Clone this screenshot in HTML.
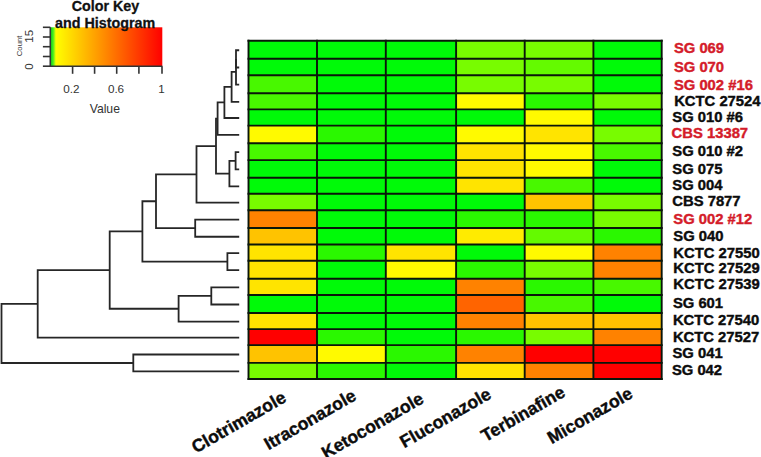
<!DOCTYPE html><html><head><meta charset="utf-8"><style>html,body{margin:0;padding:0;background:#fff;}svg{display:block}</style></head><body>
<svg width="761" height="457" viewBox="0 0 761 457" font-family="'Liberation Sans', sans-serif">
<defs><linearGradient id="ck" x1="0" x2="1" y1="0" y2="0"><stop offset="0" stop-color="#10d810"/><stop offset="0.025" stop-color="#40ee20"/><stop offset="0.05" stop-color="#ffff00"/><stop offset="1" stop-color="#ff0000"/></linearGradient></defs>
<rect x="50.3" y="27.3" width="112" height="38.9" fill="url(#ck)"/>
<g stroke="#333" stroke-width="1.6" fill="none">
<path d="M50.3 27.3V66.2H162.3"/>
<path d="M42.9 27.3H50.3"/>
<path d="M42.9 37.0H50.3"/>
<path d="M42.9 46.7H50.3"/>
<path d="M42.9 56.5H50.3"/>
<path d="M42.9 66.2H50.3"/>
<path d="M72.6 66.2V73.8"/>
<path d="M94.6 66.2V73.8"/>
<path d="M116.7 66.2V73.8"/>
<path d="M138.9 66.2V73.8"/>
<path d="M162.0 66.2V73.8"/>
</g>
<g fill="#333" font-size="11.7">
<text x="71.4" y="93.2" text-anchor="middle">0.2</text>
<text x="116.0" y="93.2" text-anchor="middle">0.6</text>
<text x="161.5" y="93.2" text-anchor="middle">1</text>
<text x="104.8" y="112.6" text-anchor="middle" font-size="12.2">Value</text>
<text transform="translate(33.2 36.3) rotate(-90)" text-anchor="middle" font-size="11.5">15</text>
<text transform="translate(33.2 66.6) rotate(-90)" text-anchor="middle" font-size="11.5">0</text>
<text transform="translate(21.6 45.9) rotate(-90)" text-anchor="middle" font-size="7.8">Count</text>
</g>
<g font-weight="bold" font-size="14.3" fill="#111" stroke="#111" stroke-width="0.3" text-anchor="middle">
<text x="105.5" y="11.3">Color Key</text>
<text x="105.1" y="28.2">and Histogram</text>
</g>
<rect x="248.5" y="40.7" width="68.50" height="18.10" fill="#00fa08"/>
<rect x="317" y="40.7" width="68.80" height="18.10" fill="#00fa08"/>
<rect x="385.8" y="40.7" width="70.30" height="18.10" fill="#00fa08"/>
<rect x="456.1" y="40.7" width="68.60" height="18.10" fill="#78fc00"/>
<rect x="524.7" y="40.7" width="68.70" height="18.10" fill="#78fc00"/>
<rect x="593.4" y="40.7" width="68.30" height="18.10" fill="#00fa08"/>
<rect x="248.5" y="58.8" width="68.50" height="16.40" fill="#00fa08"/>
<rect x="317" y="58.8" width="68.80" height="16.40" fill="#00fa08"/>
<rect x="385.8" y="58.8" width="70.30" height="16.40" fill="#00fa08"/>
<rect x="456.1" y="58.8" width="68.60" height="16.40" fill="#78fc00"/>
<rect x="524.7" y="58.8" width="68.70" height="16.40" fill="#64fa00"/>
<rect x="593.4" y="58.8" width="68.30" height="16.40" fill="#00fa08"/>
<rect x="248.5" y="75.2" width="68.50" height="18.00" fill="#48f800"/>
<rect x="317" y="75.2" width="68.80" height="18.00" fill="#00fa08"/>
<rect x="385.8" y="75.2" width="70.30" height="18.00" fill="#00fa08"/>
<rect x="456.1" y="75.2" width="68.60" height="18.00" fill="#78fc00"/>
<rect x="524.7" y="75.2" width="68.70" height="18.00" fill="#78fc00"/>
<rect x="593.4" y="75.2" width="68.30" height="18.00" fill="#00fa08"/>
<rect x="248.5" y="93.2" width="68.50" height="16.20" fill="#48f800"/>
<rect x="317" y="93.2" width="68.80" height="16.20" fill="#00fa08"/>
<rect x="385.8" y="93.2" width="70.30" height="16.20" fill="#00fa08"/>
<rect x="456.1" y="93.2" width="68.60" height="16.20" fill="#fffa00"/>
<rect x="524.7" y="93.2" width="68.70" height="16.20" fill="#2af800"/>
<rect x="593.4" y="93.2" width="68.30" height="16.20" fill="#78fc00"/>
<rect x="248.5" y="109.4" width="68.50" height="16.20" fill="#00fa08"/>
<rect x="317" y="109.4" width="68.80" height="16.20" fill="#00fa08"/>
<rect x="385.8" y="109.4" width="70.30" height="16.20" fill="#00fa08"/>
<rect x="456.1" y="109.4" width="68.60" height="16.20" fill="#00fa08"/>
<rect x="524.7" y="109.4" width="68.70" height="16.20" fill="#fffa00"/>
<rect x="593.4" y="109.4" width="68.30" height="16.20" fill="#00fa08"/>
<rect x="248.5" y="125.6" width="68.50" height="17.70" fill="#fffa00"/>
<rect x="317" y="125.6" width="68.80" height="17.70" fill="#2af800"/>
<rect x="385.8" y="125.6" width="70.30" height="17.70" fill="#00fa08"/>
<rect x="456.1" y="125.6" width="68.60" height="17.70" fill="#fffa00"/>
<rect x="524.7" y="125.6" width="68.70" height="17.70" fill="#ffe400"/>
<rect x="593.4" y="125.6" width="68.30" height="17.70" fill="#78fc00"/>
<rect x="248.5" y="143.3" width="68.50" height="16.80" fill="#48f800"/>
<rect x="317" y="143.3" width="68.80" height="16.80" fill="#00fa08"/>
<rect x="385.8" y="143.3" width="70.30" height="16.80" fill="#00fa08"/>
<rect x="456.1" y="143.3" width="68.60" height="16.80" fill="#ffe400"/>
<rect x="524.7" y="143.3" width="68.70" height="16.80" fill="#fffa00"/>
<rect x="593.4" y="143.3" width="68.30" height="16.80" fill="#48f800"/>
<rect x="248.5" y="160.1" width="68.50" height="17.70" fill="#00fa08"/>
<rect x="317" y="160.1" width="68.80" height="17.70" fill="#00fa08"/>
<rect x="385.8" y="160.1" width="70.30" height="17.70" fill="#00fa08"/>
<rect x="456.1" y="160.1" width="68.60" height="17.70" fill="#ffe400"/>
<rect x="524.7" y="160.1" width="68.70" height="17.70" fill="#fffa00"/>
<rect x="593.4" y="160.1" width="68.30" height="17.70" fill="#00fa08"/>
<rect x="248.5" y="177.8" width="68.50" height="16.00" fill="#00fa08"/>
<rect x="317" y="177.8" width="68.80" height="16.00" fill="#00fa08"/>
<rect x="385.8" y="177.8" width="70.30" height="16.00" fill="#00fa08"/>
<rect x="456.1" y="177.8" width="68.60" height="16.00" fill="#ffe400"/>
<rect x="524.7" y="177.8" width="68.70" height="16.00" fill="#48f800"/>
<rect x="593.4" y="177.8" width="68.30" height="16.00" fill="#00fa08"/>
<rect x="248.5" y="193.8" width="68.50" height="16.50" fill="#78fc00"/>
<rect x="317" y="193.8" width="68.80" height="16.50" fill="#00fa08"/>
<rect x="385.8" y="193.8" width="70.30" height="16.50" fill="#00fa08"/>
<rect x="456.1" y="193.8" width="68.60" height="16.50" fill="#00fa08"/>
<rect x="524.7" y="193.8" width="68.70" height="16.50" fill="#ffc300"/>
<rect x="593.4" y="193.8" width="68.30" height="16.50" fill="#78fc00"/>
<rect x="248.5" y="210.3" width="68.50" height="17.70" fill="#ff8200"/>
<rect x="317" y="210.3" width="68.80" height="17.70" fill="#00fa08"/>
<rect x="385.8" y="210.3" width="70.30" height="17.70" fill="#00fa08"/>
<rect x="456.1" y="210.3" width="68.60" height="17.70" fill="#2af800"/>
<rect x="524.7" y="210.3" width="68.70" height="17.70" fill="#2af800"/>
<rect x="593.4" y="210.3" width="68.30" height="17.70" fill="#78fc00"/>
<rect x="248.5" y="228" width="68.50" height="16.50" fill="#ffc300"/>
<rect x="317" y="228" width="68.80" height="16.50" fill="#00fa08"/>
<rect x="385.8" y="228" width="70.30" height="16.50" fill="#00fa08"/>
<rect x="456.1" y="228" width="68.60" height="16.50" fill="#ffeb00"/>
<rect x="524.7" y="228" width="68.70" height="16.50" fill="#64fa00"/>
<rect x="593.4" y="228" width="68.30" height="16.50" fill="#2af800"/>
<rect x="248.5" y="244.5" width="68.50" height="16.20" fill="#ffe400"/>
<rect x="317" y="244.5" width="68.80" height="16.20" fill="#2af800"/>
<rect x="385.8" y="244.5" width="70.30" height="16.20" fill="#ffe400"/>
<rect x="456.1" y="244.5" width="68.60" height="16.20" fill="#00fa08"/>
<rect x="524.7" y="244.5" width="68.70" height="16.20" fill="#fffa00"/>
<rect x="593.4" y="244.5" width="68.30" height="16.20" fill="#ff8200"/>
<rect x="248.5" y="260.7" width="68.50" height="18.00" fill="#ffe400"/>
<rect x="317" y="260.7" width="68.80" height="18.00" fill="#00fa08"/>
<rect x="385.8" y="260.7" width="70.30" height="18.00" fill="#fffa00"/>
<rect x="456.1" y="260.7" width="68.60" height="18.00" fill="#2af800"/>
<rect x="524.7" y="260.7" width="68.70" height="18.00" fill="#78fc00"/>
<rect x="593.4" y="260.7" width="68.30" height="18.00" fill="#ff8200"/>
<rect x="248.5" y="278.7" width="68.50" height="16.30" fill="#ffe400"/>
<rect x="317" y="278.7" width="68.80" height="16.30" fill="#00fa08"/>
<rect x="385.8" y="278.7" width="70.30" height="16.30" fill="#00fa08"/>
<rect x="456.1" y="278.7" width="68.60" height="16.30" fill="#ff8200"/>
<rect x="524.7" y="278.7" width="68.70" height="16.30" fill="#2af800"/>
<rect x="593.4" y="278.7" width="68.30" height="16.30" fill="#48f800"/>
<rect x="248.5" y="295" width="68.50" height="18.00" fill="#00fa08"/>
<rect x="317" y="295" width="68.80" height="18.00" fill="#00fa08"/>
<rect x="385.8" y="295" width="70.30" height="18.00" fill="#00fa08"/>
<rect x="456.1" y="295" width="68.60" height="18.00" fill="#ff6400"/>
<rect x="524.7" y="295" width="68.70" height="18.00" fill="#48f800"/>
<rect x="593.4" y="295" width="68.30" height="18.00" fill="#00fa08"/>
<rect x="248.5" y="313" width="68.50" height="16.10" fill="#ffe400"/>
<rect x="317" y="313" width="68.80" height="16.10" fill="#00fa08"/>
<rect x="385.8" y="313" width="70.30" height="16.10" fill="#00fa08"/>
<rect x="456.1" y="313" width="68.60" height="16.10" fill="#ff8200"/>
<rect x="524.7" y="313" width="68.70" height="16.10" fill="#ffc300"/>
<rect x="593.4" y="313" width="68.30" height="16.10" fill="#ffc300"/>
<rect x="248.5" y="329.1" width="68.50" height="16.00" fill="#ff0000"/>
<rect x="317" y="329.1" width="68.80" height="16.00" fill="#2af800"/>
<rect x="385.8" y="329.1" width="70.30" height="16.00" fill="#00fa08"/>
<rect x="456.1" y="329.1" width="68.60" height="16.00" fill="#2af800"/>
<rect x="524.7" y="329.1" width="68.70" height="16.00" fill="#78fc00"/>
<rect x="593.4" y="329.1" width="68.30" height="16.00" fill="#ff8200"/>
<rect x="248.5" y="345.1" width="68.50" height="17.80" fill="#ffc300"/>
<rect x="317" y="345.1" width="68.80" height="17.80" fill="#fffa00"/>
<rect x="385.8" y="345.1" width="70.30" height="17.80" fill="#2af800"/>
<rect x="456.1" y="345.1" width="68.60" height="17.80" fill="#ff8200"/>
<rect x="524.7" y="345.1" width="68.70" height="17.80" fill="#ff0000"/>
<rect x="593.4" y="345.1" width="68.30" height="17.80" fill="#ff0000"/>
<rect x="248.5" y="362.9" width="68.50" height="16.10" fill="#78fc00"/>
<rect x="317" y="362.9" width="68.80" height="16.10" fill="#2af800"/>
<rect x="385.8" y="362.9" width="70.30" height="16.10" fill="#00fa08"/>
<rect x="456.1" y="362.9" width="68.60" height="16.10" fill="#ffe400"/>
<rect x="524.7" y="362.9" width="68.70" height="16.10" fill="#ff8200"/>
<rect x="593.4" y="362.9" width="68.30" height="16.10" fill="#ff0000"/>
<g stroke="#0a160a" stroke-width="1.9" fill="none">
<path d="M247.5 40.7H662.7"/>
<path d="M247.5 58.8H662.7"/>
<path d="M247.5 75.2H662.7"/>
<path d="M247.5 93.2H662.7"/>
<path d="M247.5 109.4H662.7"/>
<path d="M247.5 125.6H662.7"/>
<path d="M247.5 143.3H662.7"/>
<path d="M247.5 160.1H662.7"/>
<path d="M247.5 177.8H662.7"/>
<path d="M247.5 193.8H662.7"/>
<path d="M247.5 210.3H662.7"/>
<path d="M247.5 228H662.7"/>
<path d="M247.5 244.5H662.7"/>
<path d="M247.5 260.7H662.7"/>
<path d="M247.5 278.7H662.7"/>
<path d="M247.5 295H662.7"/>
<path d="M247.5 313H662.7"/>
<path d="M247.5 329.1H662.7"/>
<path d="M247.5 345.1H662.7"/>
<path d="M247.5 362.9H662.7"/>
<path d="M247.5 379H662.7"/>
<path d="M248.5 39.7V380"/>
<path d="M317 39.7V380"/>
<path d="M385.8 39.7V380"/>
<path d="M456.1 39.7V380"/>
<path d="M524.7 39.7V380"/>
<path d="M593.4 39.7V380"/>
<path d="M661.7 39.7V380"/>
</g>
<g stroke="#262626" stroke-width="1.8" fill="none" stroke-linecap="butt" transform="translate(0 0.5)">
<path d="M239.2 49.75H236.0V67.00H239.2"/>
<path d="M236.0 58.38H236.0V84.20H239.2"/>
<path d="M236.0 71.29H231.6V101.30H239.2"/>
<path d="M231.6 86.29H224.4V117.50H239.2"/>
<path d="M224.4 101.90H217.6V134.45H239.2"/>
<path d="M239.2 151.70H235.6V168.95H239.2"/>
<path d="M235.6 160.32H229.4V185.80H239.2"/>
<path d="M217.6 118.17H216.0V173.06H229.4"/>
<path d="M216.0 145.62H196.5V202.05H239.2"/>
<path d="M239.2 219.15H195.2V236.25H239.2"/>
<path d="M196.5 173.83H156.0V227.70H195.2"/>
<path d="M239.2 252.60H227.4V269.70H239.2"/>
<path d="M156.0 200.77H142.4V261.15H227.4"/>
<path d="M239.2 286.85H211.3V304.00H239.2"/>
<path d="M211.3 295.43H178.6V321.05H239.2"/>
<path d="M142.4 230.96H109.7V308.24H178.6"/>
<path d="M109.7 269.60H37.7V337.10H239.2"/>
<path d="M239.2 354.00H133.3V370.95H239.2"/>
<path d="M37.7 303.35H1.5V362.48H133.3"/>
</g>
<g font-weight="bold" font-size="14.8" stroke-width="0.4">
<text x="673.9" y="52.8" fill="#d41c2a" stroke="#d41c2a">SG 069</text>
<text x="673.9" y="71.5" fill="#d41c2a" stroke="#d41c2a">SG 070</text>
<text x="673.9" y="89.6" fill="#d41c2a" stroke="#d41c2a">SG 002 #16</text>
<text x="674.2" y="106.4" fill="#0c0c0c" stroke="#0c0c0c">KCTC 27524</text>
<text x="672.3" y="122.2" fill="#0c0c0c" stroke="#0c0c0c">SG 010 #6</text>
<text x="671.6" y="137.9" fill="#d41c2a" stroke="#d41c2a">CBS 13387</text>
<text x="672.3" y="155.8" fill="#0c0c0c" stroke="#0c0c0c">SG 010 #2</text>
<text x="672.3" y="173.6" fill="#0c0c0c" stroke="#0c0c0c">SG 075</text>
<text x="672.3" y="189.9" fill="#0c0c0c" stroke="#0c0c0c">SG 004</text>
<text x="672.3" y="205.6" fill="#0c0c0c" stroke="#0c0c0c">CBS 7877</text>
<text x="673.3" y="224.1" fill="#d41c2a" stroke="#d41c2a">SG 002 #12</text>
<text x="673.3" y="240.5" fill="#0c0c0c" stroke="#0c0c0c">SG 040</text>
<text x="673.3" y="257.6" fill="#0c0c0c" stroke="#0c0c0c">KCTC 27550</text>
<text x="673.3" y="273.4" fill="#0c0c0c" stroke="#0c0c0c">KCTC 27529</text>
<text x="673.3" y="289.2" fill="#0c0c0c" stroke="#0c0c0c">KCTC 27539</text>
<text x="672.9" y="307.7" fill="#0c0c0c" stroke="#0c0c0c">SG 601</text>
<text x="672.9" y="324.9" fill="#0c0c0c" stroke="#0c0c0c">KCTC 27540</text>
<text x="672.9" y="341.7" fill="#0c0c0c" stroke="#0c0c0c">KCTC 27527</text>
<text x="672.5" y="357.8" fill="#0c0c0c" stroke="#0c0c0c">SG 041</text>
<text x="671.9" y="375.2" fill="#0c0c0c" stroke="#0c0c0c">SG 042</text>
</g>
<g font-weight="bold" font-size="17.6" fill="#0c0c0c" stroke="#0c0c0c" stroke-width="0.4" text-anchor="end">
<text transform="translate(287.4 400.8) rotate(-30)">Clotrimazole</text>
<text transform="translate(357.4 399.0) rotate(-30)">Itraconazole</text>
<text transform="translate(425.0 402.0) rotate(-30)">Ketoconazole</text>
<text transform="translate(492.4 397.5) rotate(-30)">Fluconazole</text>
<text transform="translate(566.4 395.5) rotate(-30)">Terbinafine</text>
<text transform="translate(633.9 396.8) rotate(-30)">Miconazole</text>
</g>
</svg></body></html>
